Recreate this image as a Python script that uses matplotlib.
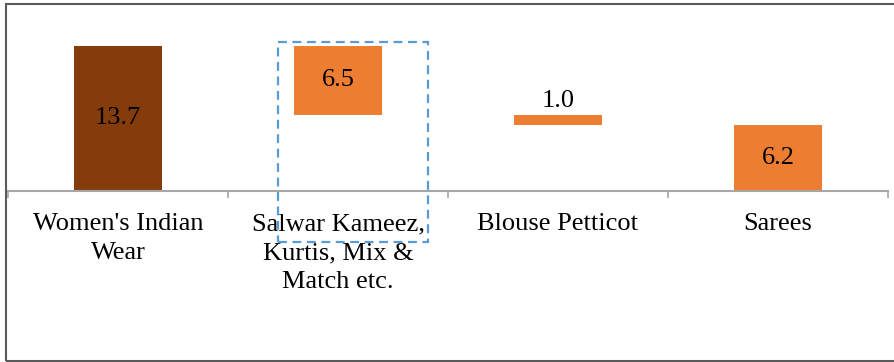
import matplotlib.pyplot as plt
from matplotlib.patches import Rectangle

categories = ["Women's Indian\nWear", "Salwar Kameez,\nKurtis, Mix &\nMatch etc.", "Blouse Petticot", "Sarees"]
values = [13.7, 6.5, 1.0, 6.2]
colors = ["#843C0C", "#ED7D31", "#ED7D31", "#ED7D31"]

# waterfall: first bar is the total, the rest step down from it
bottoms = [0.0]
running = values[0]
for v in values[1:]:
    running -= v
    bottoms.append(round(running, 2))

plt.rcParams['font.family'] = 'serif'
plt.rcParams['font.serif'] = ['Liberation Serif', 'DejaVu Serif']

fig = plt.figure(figsize=(8.95, 3.62), dpi=100)
ax = fig.add_axes([8 / 895, 1 - 191 / 362, 880 / 895, 169.6 / 362])

x = list(range(len(categories)))
ax.bar(x, values, bottom=bottoms, width=0.4, color=colors, zorder=2)

for i, (v, b) in enumerate(zip(values, bottoms)):
    if v < 2:
        ax.text(i, b + v + 0.3, f"{v:.1f}", ha='center', va='bottom', fontsize=19)
    else:
        ax.text(i, b + v / 2, f"{v:.1f}", ha='center', va='center', fontsize=19)

ax.set_xlim(-0.5, len(categories) - 0.5)
ax.set_ylim(0, 16)
ax.set_yticks([])
for s in ['top', 'right', 'left']:
    ax.spines[s].set_visible(False)
ax.spines['bottom'].set_color('#A6A6A6')
ax.spines['bottom'].set_linewidth(1.5)

# boundary ticks between categories, labels centred on bars
ax.set_xticks([i - 0.5 for i in range(len(categories) + 1)])
ax.set_xticklabels([])
ax.tick_params(axis='x', which='major', length=5, width=1.2, color='#A6A6A6')
ax.set_xticks(x, minor=True)
ax.set_xticklabels(categories, minor=True, fontsize=19, linespacing=1.4)
ax.tick_params(axis='x', which='minor', length=0, pad=16)

# highlight box around the second category
ax.add_patch(Rectangle((0.727, -4.8), 0.683, 18.86, fill=False, edgecolor='#5B9BD5',
                       linewidth=1.6, linestyle=(0, (4, 2.5)), clip_on=False, zorder=3))

# outer border
fig.add_artist(Rectangle((6 / 895, 1 / 362), 1.0, 357 / 362, fill=False,
                         edgecolor='#595959', linewidth=1.5, transform=fig.transFigure))

fig.savefig('out.png', dpi=100)
